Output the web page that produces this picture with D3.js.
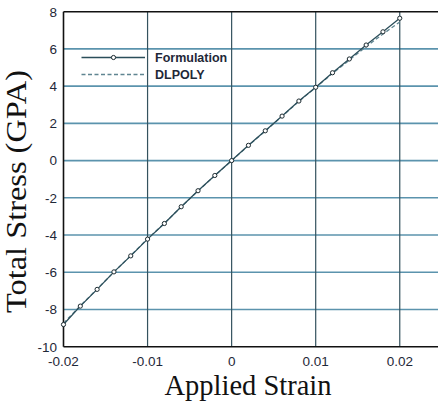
<!DOCTYPE html>
<html><head><meta charset="utf-8">
<script src="https://cdn.jsdelivr.net/npm/d3@7"></script>
<style>body{margin:0;background:#fff}svg{display:block}</style>
</head><body>
<svg id="c" width="438" height="402"></svg>
<script>
const strain = [-0.02,-0.018,-0.016,-0.014,-0.012,-0.01,-0.008,-0.006,-0.004,-0.002,0,0.002,0.004,0.006,0.008,0.01,0.012,0.014,0.016,0.018,0.02];
const formulation = [-8.81,-7.82,-6.92,-5.98,-5.12,-4.22,-3.38,-2.48,-1.62,-0.8,0,0.82,1.6,2.39,3.2,3.94,4.72,5.46,6.21,6.92,7.65];
const dlpoly = [-8.74,-7.8,-6.9,-5.99,-5.1,-4.2,-3.37,-2.49,-1.63,-0.81,0,0.8,1.59,2.38,3.18,3.93,4.68,5.4,6.12,6.8,7.45];
const xTicks = [-0.02,-0.01,0,0.01,0.02];
const xTickLabels = ["-0.02","-0.01","0","0.01","0.02"];
const yTicks = [-10,-8,-6,-4,-2,0,2,4,6,8];
const legendLabels = ["Formulation","DLPOLY"];

const svg = d3.select("#c");
const x = d3.scaleLinear().domain([-0.02,0.025]).range([63.5,441.8]);
const y = d3.scaleLinear().domain([-10,8]).range([346.7,11.7]);

// horizontal grid
svg.append("g").selectAll("line").data(yTicks.filter(d=>d>-10 && d<8)).join("line")
  .attr("x1",x(-0.02)).attr("x2",438).attr("y1",d=>y(d)).attr("y2",d=>y(d))
  .attr("stroke","#5b93ad").attr("stroke-width",1.6);
// vertical grid
svg.append("g").selectAll("line").data(xTicks.filter(d=>d>-0.02)).join("line")
  .attr("x1",d=>x(d)).attr("x2",d=>x(d)).attr("y1",y(8)).attr("y2",y(-10))
  .attr("stroke","#34525e").attr("stroke-width",1.2);

// axes frame
svg.append("line").attr("x1",x(-0.02)).attr("x2",x(-0.02)).attr("y1",y(8)).attr("y2",y(-10)).attr("stroke","#111").attr("stroke-width",1.6);
svg.append("line").attr("x1",x(-0.02)).attr("x2",438).attr("y1",y(-10)).attr("y2",y(-10)).attr("stroke","#111").attr("stroke-width",1.6);
svg.append("line").attr("x1",x(-0.02)).attr("x2",438).attr("y1",y(8)).attr("y2",y(8)).attr("stroke","#111").attr("stroke-width",1.6);

// tick labels
svg.append("g").selectAll("text").data(yTicks).join("text")
  .attr("x",57).attr("y",d=>y(d)+4.8).attr("text-anchor","end")
  .attr("font-family","Liberation Sans, Arial, sans-serif").attr("font-size",13.5)
  .attr("fill","#1f2838").text(d=>d);
svg.append("g").selectAll("text").data(xTicks).join("text")
  .attr("x",d=>x(d)).attr("y",365.5).attr("text-anchor","middle")
  .attr("font-family","Liberation Sans, Arial, sans-serif").attr("font-size",13.5)
  .attr("fill","#1f2838").text((d,i)=>xTickLabels[i]);

// axis titles
svg.append("text").attr("x",(163+333)/2).attr("y",394.5).attr("text-anchor","middle")
  .attr("font-family","Liberation Serif, Times New Roman, serif").attr("font-size",28.5).attr("fill","#111")
  .text("Applied Strain");
svg.append("text").attr("transform","translate(26,191.5) rotate(-90)").attr("text-anchor","middle")
  .attr("font-family","Liberation Serif, Times New Roman, serif").attr("font-size",28.5).attr("fill","#111")
  .attr("textLength",243).attr("lengthAdjust","spacingAndGlyphs")
  .text("Total Stress (GPA)");

// data lines
const pts = (vals)=>strain.map((s,i)=>[s,vals[i]]);
const line = d3.line().x(d=>x(d[0])).y(d=>y(d[1]));
svg.append("path").attr("d",line(pts(dlpoly))).attr("fill","none")
  .attr("stroke","#5f8591").attr("stroke-width",1.3).attr("stroke-dasharray","4,2.5");
svg.append("path").attr("d",line(pts(formulation))).attr("fill","none")
  .attr("stroke","#2b4e5a").attr("stroke-width",1.3);
svg.append("g").selectAll("circle").data(pts(formulation)).join("circle")
  .attr("cx",d=>x(d[0])).attr("cy",d=>y(d[1])).attr("r",2.1)
  .attr("fill","#fff").attr("stroke","#1c2a30").attr("stroke-width",1);

// legend
const ly = [57.5,74.5];
svg.append("line").attr("x1",81.5).attr("x2",145).attr("y1",ly[0]).attr("y2",ly[0]).attr("stroke","#2b4e5a").attr("stroke-width",1.3);
svg.append("circle").attr("cx",113.5).attr("cy",ly[0]).attr("r",2.1).attr("fill","#fff").attr("stroke","#1c2a30").attr("stroke-width",1);
svg.append("line").attr("x1",81.5).attr("x2",145).attr("y1",ly[1]).attr("y2",ly[1]).attr("stroke","#5f8591").attr("stroke-width",1.3).attr("stroke-dasharray","4,2.5");
svg.append("g").selectAll("text").data(legendLabels).join("text")
  .attr("x",155).attr("y",(d,i)=>ly[i]+4.6)
  .attr("font-family","Liberation Sans, Arial, sans-serif").attr("font-size",12.5).attr("font-weight","bold")
  .attr("fill","#1f2838").text(d=>d);
</script>
</body></html>
